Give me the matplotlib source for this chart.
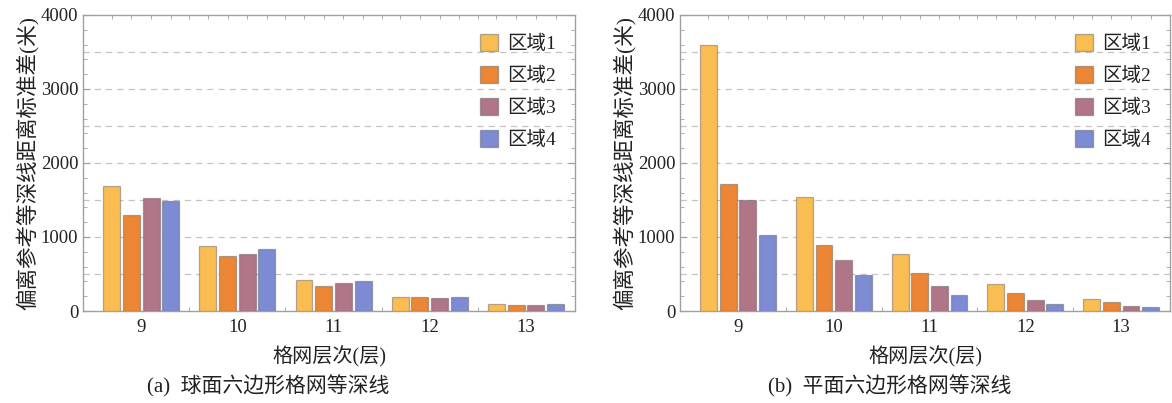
import numpy as np
import matplotlib
matplotlib.use('Agg')
import matplotlib.pyplot as plt
from matplotlib.patches import Patch

plt.rcParams['font.family'] = ['Liberation Serif', 'Noto Sans CJK SC', 'DejaVu Sans']

levels = ['9', '10', '11', '12', '13']
regions = ['区域1', '区域2', '区域3', '区域4']
colors = ['#F9BD52', '#EC8634', '#B07586', '#7D8BD3']

# (a) spherical hexagonal grid
sphere_r1 = [1695, 874, 414, 189, 95]
sphere_r2 = [1293, 743, 342, 185, 86]
sphere_r3 = [1532, 770, 378, 176, 81]
sphere_r4 = [1486, 838, 405, 194, 95]

# (b) planar hexagonal grid
plane_r1 = [3590, 1534, 769, 367, 163]
plane_r2 = [1715, 887, 516, 249, 118]
plane_r3 = [1502, 692, 339, 154, 68]
plane_r4 = [1032, 480, 217, 100, 50]

ylabel = '偏离参考等深线距离标准差(米)'
xlabel = '格网层次(层)'
captions = ['(a)  球面六边形格网等深线', '(b)  平面六边形格网等深线']

W, H = 1172, 403
fig = plt.figure(figsize=(W / 100, H / 100), dpi=100)
frame_col = '#a0a0a0'
txt_col = '#222222'


def draw(ax, series):
    x = np.arange(len(levels))
    bw = 0.176
    step = 0.205
    offs = (np.arange(4) - 1.5) * step
    for vals, c, off, lab in zip(series, colors, offs, regions):
        ax.bar(x + off, vals, width=bw, color=c, edgecolor=(0.35, 0.35, 0.35, 0.45),
               linewidth=0.9, label=lab, zorder=3)
    ax.set_xlim(-0.605, len(levels) - 1 + 0.51)
    ax.set_ylim(0, 4000)
    for yv in np.arange(500, 4000, 500):
        ax.axhline(yv, color='#c4c4c4', lw=0.9, ls=(0, (5, 4)), zorder=1)
    ax.set_yticks([0, 1000, 2000, 3000, 4000])
    ax.set_yticks(np.arange(0, 4001, 200), minor=True)
    ax.set_xticks(x)
    ax.set_xticklabels(levels)
    minor_x = list((x[:, None] + offs[None, :]).ravel()) + list(x[:-1] + 0.5)
    ax.set_xticks(minor_x, minor=True)
    ax.tick_params(which='both', direction='in', color=frame_col, top=True, right=True,
                   labelsize=13.5, labelcolor=txt_col)
    ax.tick_params(which='major', length=5, width=0.8)
    ax.tick_params(which='minor', length=3, width=0.6)
    ax.tick_params(axis='x', which='major', length=0, pad=6)
    for s in ax.spines.values():
        s.set_color(frame_col)
        s.set_linewidth(1.0)
    ax.set_ylabel(ylabel, fontsize=15.5, color=txt_col, labelpad=1)
    ax.set_xlabel(xlabel, fontsize=14.5, color=txt_col, labelpad=7)
    handles = [Patch(facecolor=c, edgecolor=(0.35, 0.35, 0.35, 0.45), label=l)
               for c, l in zip(colors, regions)]
    ax.legend(handles=handles, loc='upper right', frameon=False, fontsize=14,
              handlelength=0.9, handleheight=0.9, handletextpad=0.45,
              labelspacing=0.68, borderaxespad=0.6, labelcolor=txt_col)


ax1 = fig.add_axes([83 / W, 1 - 311 / H, (575 - 83) / W, (311 - 15) / H])
draw(ax1, [sphere_r1, sphere_r2, sphere_r3, sphere_r4])
ax2 = fig.add_axes([680 / W, 1 - 311 / H, (1170 - 680) / W, (311 - 15) / H])
draw(ax2, [plane_r1, plane_r2, plane_r3, plane_r4])

fig.text(268 / W, 1 - 386 / H, captions[0], ha='center', va='center', fontsize=15, color=txt_col)
fig.text(890 / W, 1 - 386 / H, captions[1], ha='center', va='center', fontsize=15, color=txt_col)

fig.savefig('out.png', dpi=100)
